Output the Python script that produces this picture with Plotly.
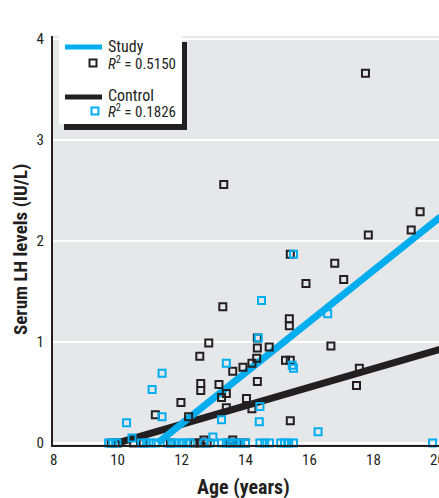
import plotly.graph_objects as go

# ---- data ----
study_age = [17.75, 13.32, 19.46, 19.18, 17.84, 15.40, 16.79, 17.07, 15.89, 13.29,
             15.37, 15.37, 14.37, 12.85, 16.67, 14.74, 14.37, 12.57, 14.35, 15.25,
             15.40, 14.20, 13.92, 17.56, 13.60, 14.37, 12.60, 13.17, 17.47, 12.60,
             13.40, 13.25, 14.03, 11.98, 13.40, 14.20, 11.18, 12.22, 15.40, 12.70,
             13.60,
             9.80, 10.00, 10.50, 10.80, 11.65, 12.40, 12.57, 12.80, 13.50, 13.75, 14.00]
study_lh = [3.66, 2.56, 2.29, 2.11, 2.06, 1.87, 1.78, 1.62, 1.58, 1.35,
            1.23, 1.16, 1.04, 0.99, 0.96, 0.95, 0.94, 0.86, 0.84, 0.82,
            0.82, 0.79, 0.75, 0.74, 0.71, 0.61, 0.59, 0.58, 0.57, 0.52,
            0.49, 0.45, 0.44, 0.40, 0.35, 0.34, 0.28, 0.26, 0.22, 0.03,
            0.03,
            0, 0, 0, 0, 0, 0, 0, 0, 0, 0, 0]

control_age = [15.50, 14.50, 16.57, 14.40, 13.40, 15.46, 15.50, 11.39, 11.08, 14.45,
               11.39, 13.25, 14.43, 10.28, 16.27, 12.98, 10.45,
               9.72, 9.85, 9.98, 10.75, 10.90, 11.05, 11.20, 11.55, 11.70, 11.85,
               12.00, 12.15, 12.27, 12.70, 12.90, 13.25, 13.40, 13.55, 13.70, 13.85,
               14.00, 14.45, 14.60, 14.75, 15.10, 15.22, 15.35, 15.50, 19.85]
control_lh = [1.87, 1.41, 1.28, 1.04, 0.79, 0.77, 0.74, 0.69, 0.53, 0.36,
              0.26, 0.23, 0.21, 0.20, 0.11, 0.06, 0.05,
              0, 0, 0, 0, 0, 0, 0, 0, 0, 0,
              0, 0, 0, 0, 0, 0, 0, 0, 0, 0,
              0, 0, 0, 0, 0, 0, 0, 0, 0]

# regression lines (end points)
study_fit_age = [11.25, 20.1]
study_fit_lh = [0.0, 2.24]
control_fit_age = [10.0, 20.1]
control_fit_lh = [0.0, 0.93]

x_ticks = [8, 10, 12, 14, 16, 18, 20]
y_ticks = [0, 1, 2, 3, 4]

x_title = "Age (years)"
y_title = "Serum LH levels (IU/L)"
study_name = "Study"
control_name = "Control"
study_r2 = "0.5150"
control_r2 = "0.1826"

BLACK = "#231f20"
CYAN = "#00aeef"
FONT = "Liberation Sans Narrow, Roboto Condensed, Arial Narrow, sans-serif"

fig = go.Figure()
fig.add_trace(go.Scatter(x=control_fit_age, y=control_fit_lh, mode="lines",
                         line=dict(color=BLACK, width=7), showlegend=False, cliponaxis=False))
fig.add_trace(go.Scatter(x=study_fit_age, y=study_fit_lh, mode="lines",
                         line=dict(color=CYAN, width=7), showlegend=False, cliponaxis=False))
fig.add_trace(go.Scatter(x=study_age, y=study_lh, mode="markers",
                         marker=dict(symbol="square-open", size=7, color=BLACK,
                                     line=dict(width=2, color=BLACK)),
                         showlegend=False, cliponaxis=False))
fig.add_trace(go.Scatter(x=control_age, y=control_lh, mode="markers",
                         marker=dict(symbol="square-open", size=7, color=CYAN,
                                     line=dict(width=2, color=CYAN)),
                         showlegend=False, cliponaxis=False))

W, H = 439, 498
L, R, T, B = 53, 0, 36, 53
PW, PH = W - L - R, H - T - B


def px(x):
    return (x - L) / PW


def py(y):
    return (H - B - y) / PH


shapes = []
# legend shadow and box
shapes.append(dict(type="rect", xref="paper", yref="paper", x0=px(64), x1=px(187),
                   y0=py(130), y1=py(42), fillcolor=BLACK, line=dict(width=0), layer="above"))
shapes.append(dict(type="rect", xref="paper", yref="paper", x0=px(59), x1=px(182),
                   y0=py(124), y1=py(36), fillcolor="white", line=dict(width=0), layer="above"))
# legend line samples
shapes.append(dict(type="line", xref="paper", yref="paper", x0=px(65), x1=px(102),
                   y0=py(47), y1=py(47), line=dict(color=CYAN, width=5), layer="above"))
shapes.append(dict(type="line", xref="paper", yref="paper", x0=px(65), x1=px(102),
                   y0=py(97), y1=py(97), line=dict(color=BLACK, width=5), layer="above"))
# legend marker samples
shapes.append(dict(type="rect", xref="paper", yref="paper", x0=px(89.5), x1=px(96.5),
                   y0=py(66.5), y1=py(59.5), line=dict(color=BLACK, width=2), layer="above"))
shapes.append(dict(type="rect", xref="paper", yref="paper", x0=px(91.5), x1=px(98.5),
                   y0=py(114.5), y1=py(107.5), line=dict(color=CYAN, width=2), layer="above"))

annotations = []
for txt, yy, sz in [(study_name, 47, 16), ("<i>R</i><sup>2</sup> = " + study_r2, 63, 15),
                    (control_name, 95, 16), ("<i>R</i><sup>2</sup> = " + control_r2, 111, 15)]:
    annotations.append(dict(text=txt, xref="paper", yref="paper", x=px(106), y=py(yy),
                            xanchor="left", yanchor="middle", showarrow=False,
                            font=dict(family=FONT, size=sz, color=BLACK)))
# axis titles
annotations.append(dict(text="<b>" + x_title + "</b>", xref="paper", yref="paper",
                        x=px(243), y=py(487), xanchor="center", yanchor="middle",
                        showarrow=False, font=dict(family=FONT, size=20, color=BLACK)))
annotations.append(dict(text="<b>" + y_title + "</b>", xref="paper", yref="paper",
                        x=px(20), y=py(250), xanchor="center", yanchor="middle",
                        textangle=-90, showarrow=False,
                        font=dict(family=FONT, size=19, color=BLACK)))

fig.update_layout(
    width=W, height=H,
    margin=dict(l=L, r=R, t=T, b=B, autoexpand=False),
    paper_bgcolor="white",
    plot_bgcolor="#e6e7e8",
    font=dict(family=FONT, size=15, color=BLACK),
    shapes=shapes,
    annotations=annotations,
    xaxis=dict(range=[7.98, 20.05], tickvals=x_ticks, showgrid=False, zeroline=False,
               showline=True, linecolor=BLACK, linewidth=2, ticks="", automargin=False,
               ticklabeloverflow="allow",
               tickfont=dict(family=FONT, size=15, color=BLACK)),
    yaxis=dict(range=[-0.02, 4.03], tickvals=y_ticks, showgrid=True, gridcolor="white",
               gridwidth=2, zeroline=False, showline=True, linecolor=BLACK, linewidth=2,
               ticks="", ticklabelstandoff=4, automargin=False,
               tickfont=dict(family=FONT, size=15, color=BLACK)),
)

fig.write_html("out.html", config={"displayModeBar": False},
               post_script="document.body.style.margin='0';document.body.style.overflow='hidden';")
